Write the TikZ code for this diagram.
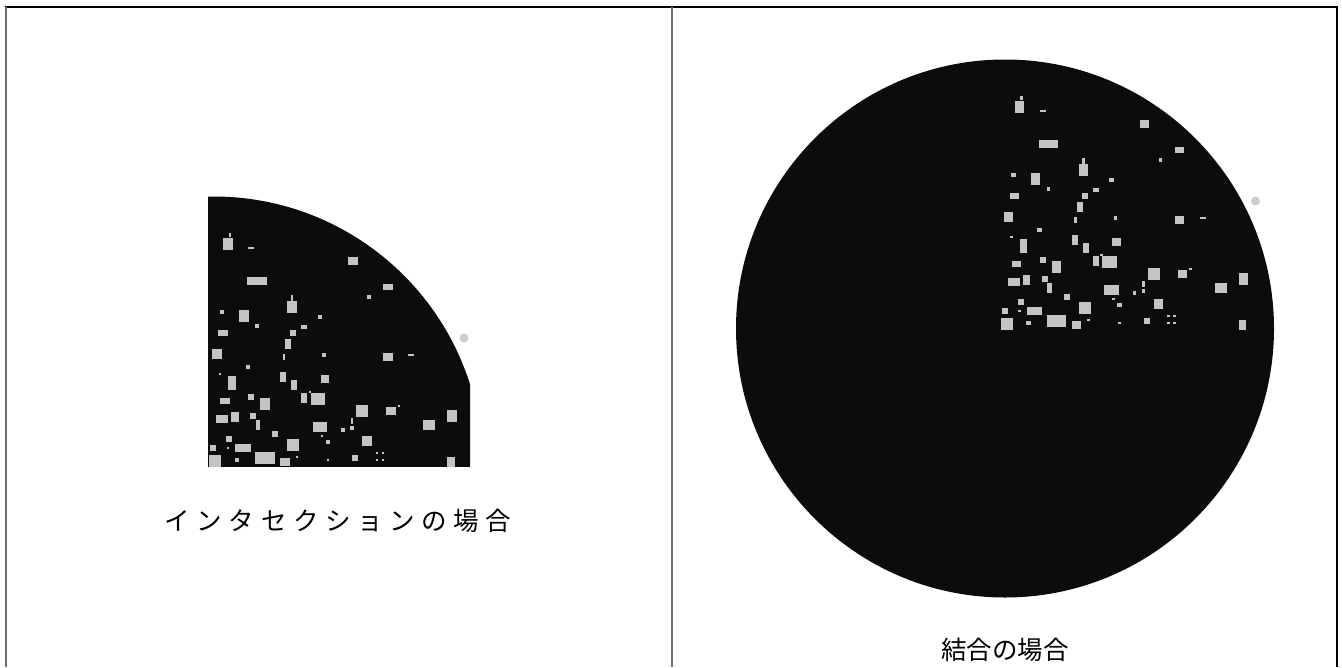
\documentclass[tikz,border=0pt]{standalone}
\usepackage{fontspec}
\newfontfamily\jpfont{Noto Sans CJK JP}
\definecolor{blobblack}{HTML}{0C0C0C}
\definecolor{dotgray}{HTML}{C4C4C4}
\definecolor{outgray}{HTML}{CCCCCC}
\definecolor{framegray}{HTML}{707070}
\tikzset{
  dotfill/.style={fill=dotgray},
  framebk/.style={draw=black,line width=2pt},
  framegr/.style={draw=framegray,line width=2pt},
  caption/.style={font=\jpfont\fontsize{25.5}{30}\selectfont,inner sep=0pt,anchor=center}
}
\newcommand{\gp}{\hspace{6.6pt}}
\newcommand{\dotlist}{228/244/8/10,230/235/2/4,251/248/5/2,353/261/8/7,257/281/16/7,388/287/8/5,292/298/2/5,369/297/3/3,292/307/8/10,222/312/4/4,244/316/8/10,320/317/4/4,257/326/3/3,223/333/8/5,293/333/5/5,304/327/5/4,288/344/5/8,217/354/8/8,324/355/3/3,388/357/8/7,411/355/5/2,284/357/2/5,248/367/4/4,220/374/2/2,232/383/6/12,283/377/5/8,294/385/5/8,325/379/7/7,251/397/5/5,225/401/8/5,304/398/5/8,310/392/2/2,318/399/12/10,265/404/8/10,222/419/10/6,235/417/6/8,253/416/5/5,258/425/4/8,362/411/10/10,391/411/8/7,399/406/2/2,452/416/8/10,352/421/2/5,320/427/12/8,429/425/10/8,343/430/3/3,352/428/3/3,275/434/5/5,322/436/2/2,229/439/5/5,367/441/8/8,328/442/4/4,213/448/5/5,228/448/2/2,243/448/13/6,293/445/10/10,215/461/10/10,237/460/4/4,265/458/16/10,285/462/8/6,297/457/2/2,328/460/2/2,355/458/5/5,377/453/2/2,383/453/2/2,377/460/2/2,383/460/2/2,451/462/6/8}
\begin{document}
\begin{tikzpicture}[x=1pt,y=-1pt]
\useasboundingbox (0,0) rectangle (1342,667);
% frame
\draw[framebk] (5,7) -- (1338,7);
\draw[framegr] (6,7) -- (6,667);
\draw[framegr] (672,7) -- (672,667);
\draw[framebk] (1337,7) -- (1337,667);
% left panel: intersection
\begin{scope}
  \clip (208,195) rectangle (470,466);
  \fill[blobblack] (213.5,465.5) circle (269);
  \foreach \x/\y/\w/\h in \dotlist {
    \fill[dotfill] (\x-0.6*\w,\y-0.6*\h) rectangle ++(1.2*\w,1.2*\h);
  }
\end{scope}
\fill[outgray] (464,338) circle (4.5);
\node[caption] (capL) at (338,521) {イ\gp ン\gp タ\gp セ\gp ク\gp シ\gp ョ\gp ン\gp の\gp 場\gp 合};
% right panel: union
\fill[blobblack] (1005,328.5) circle (269);
\begin{scope}[shift={(791.5,-137)}]
  \foreach \x/\y/\w/\h in \dotlist {
    \fill[dotfill] (\x-0.6*\w,\y-0.6*\h) rectangle ++(1.2*\w,1.2*\h);
  }
  \fill[outgray] (464,338) circle (4.5);
\end{scope}
\node[caption] (capR) at (1005,650) {結合の場合};
\end{tikzpicture}
\end{document}
